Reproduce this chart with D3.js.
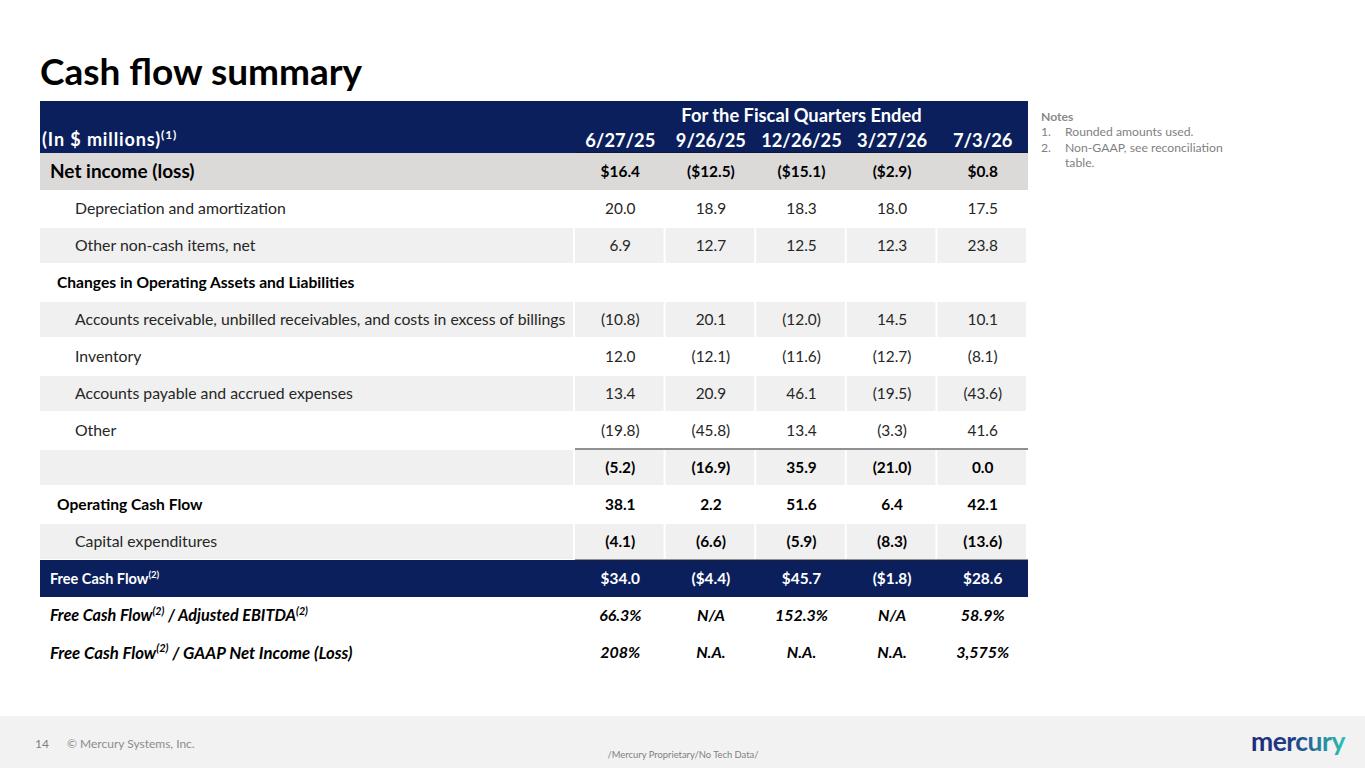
<!DOCTYPE html>
<html>
<head>
<meta charset="utf-8">
<script src="https://cdn.jsdelivr.net/npm/d3@7"></script>
<style>
  html, body { margin: 0; padding: 0; background: #fff; }
  svg { display: block; font-family: Lato, "Open Sans", sans-serif; }
</style>
</head>
<body>
<div id="chart"></div>
<script>
// Cash flow summary table, drawn as SVG with band scales for rows and columns.

const quarters = ['6/27/25', '9/26/25', '12/26/25', '3/27/26', '7/3/26'];

// label text: ^{..} marks a superscript
const rowLabels = [
  'Net income (loss)',
  'Depreciation and amortization',
  'Other non-cash items, net',
  'Changes in Operating Assets and Liabilities',
  'Accounts receivable, unbilled receivables, and costs in excess of billings',
  'Inventory',
  'Accounts payable and accrued expenses',
  'Other',
  '',
  'Operating Cash Flow',
  'Capital expenditures',
  'Free Cash Flow^{(2)}',
  'Free Cash Flow^{(2)} / Adjusted EBITDA^{(2)}',
  'Free Cash Flow^{(2)} / GAAP Net Income (Loss)'
];

const netIncome    = ['$16.4', '($12.5)', '($15.1)', '($2.9)', '$0.8'];
const deprAmort    = ['20.0', '18.9', '18.3', '18.0', '17.5'];
const otherNonCash = ['6.9', '12.7', '12.5', '12.3', '23.8'];
const changesHdr   = ['', '', '', '', ''];
const receivables  = ['(10.8)', '20.1', '(12.0)', '14.5', '10.1'];
const inventory    = ['12.0', '(12.1)', '(11.6)', '(12.7)', '(8.1)'];
const payables     = ['13.4', '20.9', '46.1', '(19.5)', '(43.6)'];
const otherItems   = ['(19.8)', '(45.8)', '13.4', '(3.3)', '41.6'];
const subtotal     = ['(5.2)', '(16.9)', '35.9', '(21.0)', '0.0'];
const opCashFlow   = ['38.1', '2.2', '51.6', '6.4', '42.1'];
const capex        = ['(4.1)', '(6.6)', '(5.9)', '(8.3)', '(13.6)'];
const freeCashFlow = ['$34.0', '($4.4)', '$45.7', '($1.8)', '$28.6'];
const fcfToEbitda  = ['66.3%', 'N/A', '152.3%', 'N/A', '58.9%'];
const fcfToNetInc  = ['208%', 'N.A.', 'N.A.', 'N.A.', '3,575%'];

const rowValues = [netIncome, deprAmort, otherNonCash, changesHdr, receivables, inventory,
  payables, otherItems, subtotal, opCashFlow, capex, freeCashFlow, fcfToEbitda, fcfToNetInc];

const noteLines = ['Rounded amounts used.', 'Non-GAAP, see reconciliation', 'table.'];

// ── Styles per row ────────────────────────────────────────────
const NAVY = '#0a1f5c', DARK_GREY = '#dcd9d9', LIGHT = '#f0f0f0', INK = '#262626';
const rowStyle = [
  { kind: 'solid', fill: DARK_GREY, x: 50, size: 19, weight: 700, vWeight: 700 },
  { kind: 'none', x: 75, size: 15.8 },
  { kind: 'gap', fill: LIGHT, x: 75, size: 15.8 },
  { kind: 'none', x: 57, size: 15.6, weight: 700 },
  { kind: 'gap', fill: LIGHT, x: 75, size: 15.8 },
  { kind: 'none', x: 75, size: 15.8 },
  { kind: 'gap', fill: LIGHT, x: 75, size: 15.8 },
  { kind: 'none', x: 75, size: 15.8 },
  { kind: 'gap', fill: LIGHT, x: 75, size: 15.8, vWeight: 700, lineTop: true },
  { kind: 'none', x: 57, size: 15.6, weight: 700, vWeight: 700 },
  { kind: 'gap', fill: LIGHT, x: 75, size: 15.8, vWeight: 700 },
  { kind: 'solid', fill: NAVY, x: 50, size: 14.5, weight: 700, vWeight: 700, color: '#fff', lineTop: true },
  { kind: 'none', x: 50, size: 16.2, weight: 700, vWeight: 700, italic: true },
  { kind: 'none', x: 50, size: 16.8, weight: 700, vWeight: 700, italic: true }
];

const W = 1365, H = 768;
const T = { left: 40, right: 1028, labelEnd: 575, headTop: 101, headBottom: 153, bottom: 671 };

const svg = d3.select('#chart').append('svg').attr('width', W).attr('height', H);

const y = d3.scaleBand().domain(d3.range(rowLabels.length)).range([T.headBottom, T.bottom]);
const x = d3.scaleBand().domain(quarters).range([T.labelEnd, T.right]);

// write text with ^{..} superscripts as tspans
function richText(sel, str, size) {
  const parts = str.split(/(\^\{[^}]*\})/).filter(s => s.length);
  let shift = 0;
  parts.forEach(p => {
    if (p.startsWith('^{')) {
      sel.append('tspan').attr('font-size', size * 0.66).attr('dy', -size * 0.38).text(p.slice(2, -1));
      shift = size * 0.38;
    } else {
      const t = sel.append('tspan').attr('font-size', size).text(p);
      if (shift) t.attr('dy', shift);
      shift = 0;
    }
  });
}

// ── Title ─────────────────────────────────────────────────────
svg.append('text').attr('x', 40).attr('y', 85)
  .attr('font-size', 37).attr('font-weight', 700).attr('fill', '#000')
  .text('Cash flow summary');

// ── Header band ───────────────────────────────────────────────
svg.append('rect').attr('x', T.left).attr('y', T.headTop)
  .attr('width', T.right - T.left).attr('height', T.headBottom - T.headTop).attr('fill', NAVY);

const inM = svg.append('text').attr('x', 42).attr('y', 146)
  .attr('font-size', 18).attr('font-weight', 700).attr('letter-spacing', 0.9).attr('fill', '#fff');
richText(inM, '(In $ millions)^{(1)}', 18);

svg.append('text').attr('x', (x.range()[0] + x.range()[1]) / 2).attr('y', 122)
  .attr('text-anchor', 'middle').attr('font-size', 18.3).attr('font-weight', 700).attr('fill', '#fff')
  .text('For the Fiscal Quarters Ended');

svg.selectAll('.qtr').data(quarters).enter().append('text')
  .attr('x', d => x(d) + x.bandwidth() / 2).attr('y', 147)
  .attr('text-anchor', 'middle').attr('font-size', 18.3).attr('font-weight', 700).attr('fill', '#fff')
  .text(d => d);

svg.append('line').attr('x1', T.labelEnd).attr('x2', T.right)
  .attr('y1', T.headBottom).attr('y2', T.headBottom).attr('stroke', '#111').attr('stroke-width', 1.2);

// ── Body rows ─────────────────────────────────────────────────
const rows = svg.selectAll('.row').data(rowLabels.map((l, i) => ({ i, label: l, values: rowValues[i], s: rowStyle[i] })))
  .enter().append('g').attr('class', 'row');

rows.each(function(d) {
  const g = d3.select(this), s = d.s, top = y(d.i), h = y.bandwidth();
  if (s.kind === 'solid') {
    g.append('rect').attr('x', T.left).attr('y', top).attr('width', T.right - T.left).attr('height', h).attr('fill', s.fill);
  } else if (s.kind === 'gap') {
    g.append('rect').attr('x', T.left).attr('y', top + 1).attr('width', T.labelEnd - T.left - 2).attr('height', h - 2).attr('fill', s.fill);
    quarters.forEach(q => {
      g.append('rect').attr('x', x(q)).attr('y', top + 1).attr('width', x.bandwidth() - 2).attr('height', h - 2).attr('fill', s.fill);
    });
  }
  const color = s.color || INK;
  if (d.label) {
    const lab = g.append('text').attr('x', s.x).attr('y', top + h / 2 + s.size * 0.36)
      .attr('font-weight', s.weight || 400)
      .attr('font-style', s.italic ? 'italic' : 'normal').attr('fill', s.color || (s.weight ? '#000' : INK));
    richText(lab, d.label, s.size);
  }

  g.selectAll('.val').data(d.values.filter(v => v !== '')).enter().append('text')
    .attr('x', (_, j) => x(quarters[j]) + x.bandwidth() / 2).attr('y', top + h / 2).attr('dy', '0.36em')
    .attr('text-anchor', 'middle').attr('font-size', s.italic ? 16 : 15.4).attr('font-weight', s.vWeight || 400)
    .attr('font-style', s.italic ? 'italic' : 'normal').attr('fill', s.vWeight ? (s.color || '#000') : color)
    .text(v => v);

  if (s.lineTop) {
    g.append('line').attr('x1', T.labelEnd).attr('x2', T.right).attr('y1', top).attr('y2', top)
      .attr('stroke', '#222').attr('stroke-width', 1.2);
  }
});

// ── Notes ─────────────────────────────────────────────────────
const notes = svg.append('g').attr('fill', '#7f7f7f').attr('font-size', 12.2);
notes.append('text').attr('x', 1041).attr('y', 121).attr('font-weight', 700).attr('fill', '#8a8a8a').text('Notes');
noteLines.forEach((n, i) => {
  const yy = 136 + i * 15.5;
  if (i < 2) notes.append('text').attr('x', 1041).attr('y', yy).text((i + 1) + '.');
  notes.append('text').attr('x', 1065).attr('y', yy).text(n);
});

// ── Footer ────────────────────────────────────────────────────
svg.append('rect').attr('x', 0).attr('y', 716).attr('width', W).attr('height', H - 716).attr('fill', '#f2f2f2');
svg.append('text').attr('x', 35).attr('y', 748).attr('font-size', 12).attr('fill', '#7f7f7f').text('14');
svg.append('text').attr('x', 67).attr('y', 748).attr('font-size', 12).attr('fill', '#8c8c8c').text('© Mercury Systems, Inc.');
svg.append('text').attr('x', 683).attr('y', 758).attr('text-anchor', 'middle').attr('font-size', 9.4).attr('fill', '#7f7f7f')
  .text('/Mercury Proprietary/No Tech Data/');

const grad = svg.append('defs').append('linearGradient').attr('id', 'logoGrad').attr('x1', '0%').attr('x2', '100%');
grad.append('stop').attr('offset', '0%').attr('stop-color', '#1f2a7a');
grad.append('stop').attr('offset', '45%').attr('stop-color', '#1f3f8a');
grad.append('stop').attr('offset', '100%').attr('stop-color', '#2bc4b0');
svg.append('text').attr('x', 1251).attr('y', 751).attr('font-size', 26.5).attr('font-weight', 700)
  .attr('letter-spacing', -0.5).attr('fill', 'url(#logoGrad)').text('mercury');
</script>
</body>
</html>
